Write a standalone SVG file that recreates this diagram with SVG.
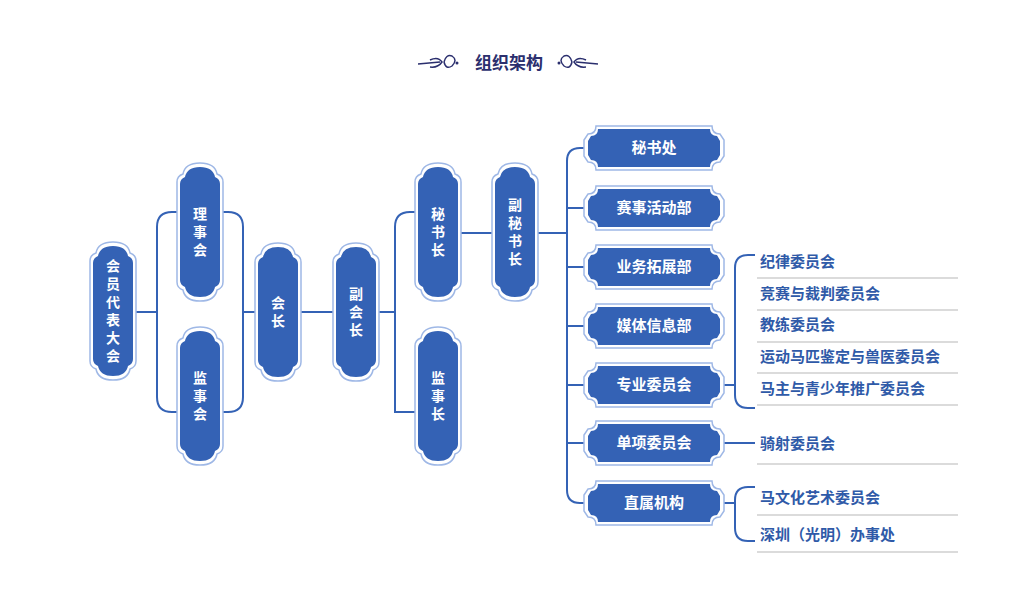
<svg xmlns="http://www.w3.org/2000/svg" width="1020" height="594" viewBox="0 0 1020 594">
<style>
.o{fill:#fff;stroke:#9fb8e6;stroke-width:1.5}
.i{fill:#3462b5}
.t{font-family:"Noto Sans CJK SC","Noto Sans",sans-serif;font-weight:bold;font-size:14px;fill:#fff;text-anchor:middle}
.ht{font-family:"Noto Sans CJK SC","Noto Sans",sans-serif;font-weight:bold;font-size:15px;fill:#fff;text-anchor:middle}
.l{font-family:"Noto Sans CJK SC","Noto Sans",sans-serif;font-weight:bold;font-size:15px;fill:#2f5aa8}
.c{fill:none;stroke:#3462b5;stroke-width:2}
.u{stroke:#d0d0d0;stroke-width:1.5}
</style>
<defs>
<path id="v" d="M-23,-50 Q-23,-56 -17,-58 Q-15,-69 0,-69 Q15,-69 17,-58 Q23,-56 23,-50 L23,50 Q23,56 17,58 Q15,69 0,69 Q-15,69 -17,58 Q-23,56 -23,50 Z"/>
<path id="vi" d="M-20,-48 Q-20,-53 -15,-55 Q-13,-65 0,-65 Q13,-65 15,-55 Q20,-53 20,-48 L20,48 Q20,53 15,55 Q13,65 0,65 Q-13,65 -15,55 Q-20,53 -20,48 Z"/>
<path id="h" d="M-58,-22 Q-58,-14 -66,-14 L-70,-8 L-70,8 L-66,14 Q-58,14 -58,22 L58,22 Q58,14 66,14 L70,8 L70,-8 L66,-14 Q58,-14 58,-22 Z"/>
<path id="hi" d="M-56,-19 Q-56,-12 -63,-12 L-66,-7 L-66,7 L-63,12 Q-56,12 -56,19 L56,19 Q56,12 63,12 L66,7 L66,-7 L63,-12 Q56,-12 56,-19 Z"/>
</defs>
<g id="title">
<text x="509" y="69" font-family="'Noto Sans CJK SC',sans-serif" font-weight="bold" font-size="17" fill="#2b2f6e" text-anchor="middle">组织架构</text>
<g fill="none" stroke="#2b2f6e" stroke-width="1.5">
<path d="M418,64 L440,62 M430,60 Q438,56 442,62 Q438,68 430,67 M444,62 Q446,54 452,56 Q458,60 452,66 Q446,70 444,62"/>
<path d="M598,64 L576,62 M586,60 Q578,56 574,62 Q578,68 586,67 M572,62 Q570,54 564,56 Q558,60 564,66 Q570,70 572,62"/>
</g>
<circle cx="457" cy="63" r="1.5" fill="#2b2f6e"/><circle cx="559" cy="63" r="1.5" fill="#2b2f6e"/>
</g>
<g id="connectors" class="c">
<path d="M136,312 H157 M177,212 H172 Q157,212 157,227 V397 Q157,412 172,412 H177 M223,212 H228 Q243,212 243,227 V397 Q243,412 228,412 H223 M243,312 H255 M301,312 H333 M379,312 H395 M415,212 H410 Q395,212 395,227 V412 H415 M461,233 H492 M538,233 H567"/>
<path d="M585,148 H580 Q567,148 567,161 V490 Q567,503 580,503 H585 M567,208 H585 M567,267 H585 M567,326 H585 M567,385 H585 M567,443 H585"/>
<path d="M724,385 H735 M755,255 H748 Q735,255 735,268 V395 Q735,408 748,408 H755 M724,443 H755 M724,503 H735 M755,487 H748 Q735,487 735,500 V528 Q735,541 748,541 H755"/>
</g>
<g id="n1" transform="translate(113,311)"><use href="#v" class="o"/><use href="#vi" class="i"/><text class="t" y="-40">会</text><text class="t" y="-22">员</text><text class="t" y="-4">代</text><text class="t" y="14">表</text><text class="t" y="32">大</text><text class="t" y="50">会</text></g>
<g id="n2" transform="translate(200,232)"><use href="#v" class="o"/><use href="#vi" class="i"/><text class="t" y="-13">理</text><text class="t" y="5">事</text><text class="t" y="23">会</text></g>
<g id="n3" transform="translate(200,396)"><use href="#v" class="o"/><use href="#vi" class="i"/><text class="t" y="-13">监</text><text class="t" y="5">事</text><text class="t" y="23">会</text></g>
<g id="n4" transform="translate(278,312)"><use href="#v" class="o"/><use href="#vi" class="i"/><text class="t" y="-4">会</text><text class="t" y="14">长</text></g>
<g id="n5" transform="translate(356,312)"><use href="#v" class="o"/><use href="#vi" class="i"/><text class="t" y="-13">副</text><text class="t" y="5">会</text><text class="t" y="23">长</text></g>
<g id="n6" transform="translate(438,232)"><use href="#v" class="o"/><use href="#vi" class="i"/><text class="t" y="-13">秘</text><text class="t" y="5">书</text><text class="t" y="23">长</text></g>
<g id="n7" transform="translate(438,396)"><use href="#v" class="o"/><use href="#vi" class="i"/><text class="t" y="-13">监</text><text class="t" y="5">事</text><text class="t" y="23">长</text></g>
<g id="n8" transform="translate(515,232)"><use href="#v" class="o"/><use href="#vi" class="i"/><text class="t" y="-22">副</text><text class="t" y="-4">秘</text><text class="t" y="14">书</text><text class="t" y="32">长</text></g>
<g id="h1" transform="translate(654,148)"><use href="#h" class="o"/><use href="#hi" class="i"/><text class="ht" y="5">秘书处</text></g>
<g id="h2" transform="translate(654,208)"><use href="#h" class="o"/><use href="#hi" class="i"/><text class="ht" y="5">赛事活动部</text></g>
<g id="h3" transform="translate(654,267)"><use href="#h" class="o"/><use href="#hi" class="i"/><text class="ht" y="5">业务拓展部</text></g>
<g id="h4" transform="translate(654,326)"><use href="#h" class="o"/><use href="#hi" class="i"/><text class="ht" y="5">媒体信息部</text></g>
<g id="h5" transform="translate(654,385)"><use href="#h" class="o"/><use href="#hi" class="i"/><text class="ht" y="5">专业委员会</text></g>
<g id="h6" transform="translate(654,443)"><use href="#h" class="o"/><use href="#hi" class="i"/><text class="ht" y="5">单项委员会</text></g>
<g id="h7" transform="translate(654,503)"><use href="#h" class="o"/><use href="#hi" class="i"/><text class="ht" y="5">直属机构</text></g>
<g id="list">
<path class="u" d="M757,278 H958 M757,310 H958 M757,342 H958 M757,373 H958 M757,405 H958 M757,464 H958 M757,515 H958 M757,552 H958"/>
<text class="l" x="760" y="267">纪律委员会</text>
<text class="l" x="760" y="299">竞赛与裁判委员会</text>
<text class="l" x="760" y="330">教练委员会</text>
<text class="l" x="760" y="362">运动马匹鉴定与兽医委员会</text>
<text class="l" x="760" y="394">马主与青少年推广委员会</text>
<text class="l" x="760" y="449">骑射委员会</text>
<text class="l" x="760" y="503">马文化艺术委员会</text>
<text class="l" x="760" y="540">深圳（光明）办事处</text>
</g>
</svg>
